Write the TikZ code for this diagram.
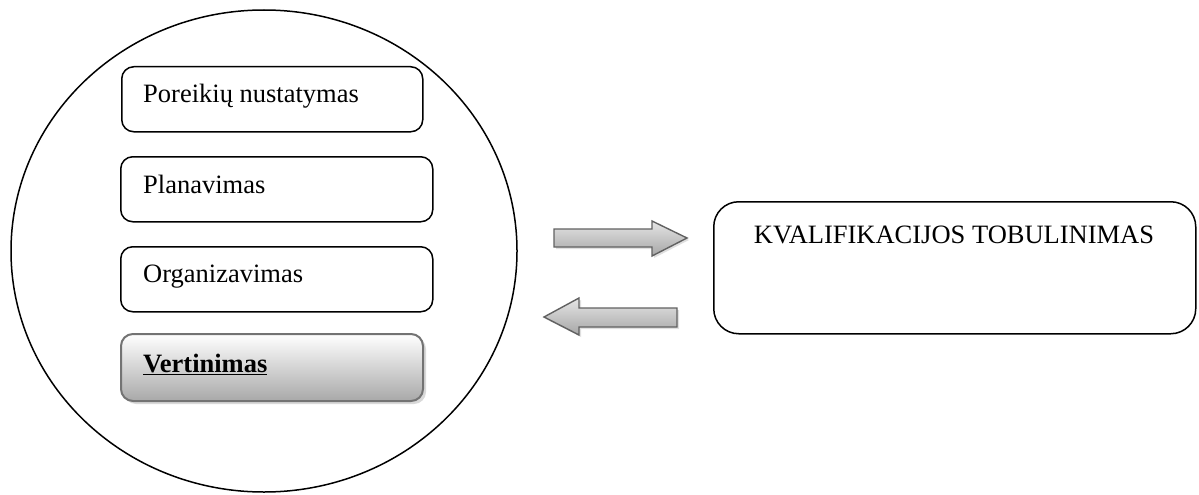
\documentclass[tikz,border=0pt]{standalone}
\usepackage{fontspec}
\setmainfont{Liberation Serif}
\usetikzlibrary{shadows}
\begin{document}
\begin{tikzpicture}[x=1pt,y=-1pt,
  stagebox/.style={draw=black, line width=1.5pt, rounded corners=12pt, fill=white,
    minimum width=#1, minimum height=65pt, anchor=north west, inner sep=0pt},
  label/.style={font=\fontsize{26.5}{30}\selectfont, inner sep=0pt, anchor=base west},
  blockarrow/.style={draw=black!62, line width=1.4pt, top color=gray!20, bottom color=gray!70,
    drop shadow={shadow xshift=2pt, shadow yshift=-2pt, opacity=0.25}}
]
\useasboundingbox (0,0) rectangle (1199,495);

% outer cycle
\draw[line width=1.5pt] (264,251) ellipse [x radius=253, y radius=241];

% stages inside the cycle
\node[stagebox=301pt] (b1) at (121,66) {};
\node[label] (t1) at (143,102) {Poreikių nustatymas};

\node[stagebox=312pt] (b2) at (120,156) {};
\node[label] (t2) at (143,193) {Planavimas};

\node[stagebox=312pt] (b3) at (120,246) {};
\node[label] (t3) at (143,282) {Organizavimas};

\node[draw=black!55, line width=2pt, rounded corners=12pt, top color=white, bottom color=gray!68,
  minimum width=302pt, minimum height=67pt, anchor=north west, inner sep=0pt,
  drop shadow={shadow xshift=3pt, shadow yshift=-3pt, opacity=0.3}] (b4) at (120,333) {};
\node[label] (t4) at (143,372) {\underline{\textbf{Vertinimas}}};

% block arrows between the cycle and the goal
\draw[blockarrow] (554,229) -- (652,229) -- (652,221) -- (687,238) -- (652,256) -- (652,247) -- (554,247) -- cycle;
\draw[blockarrow] (677,308) -- (579,308) -- (579,298) -- (544,317) -- (579,335) -- (579,327) -- (677,327) -- cycle;

% goal box
\node[draw=black, line width=1.5pt, rounded corners=25pt, minimum width=482pt, minimum height=132pt,
  anchor=north west, inner sep=0pt] (goal) at (713,201) {};
\node[font=\fontsize{26.5}{30}\selectfont, inner sep=0pt, anchor=base] (gt) at (954,243) {KVALIFIKACIJOS TOBULINIMAS};
\end{tikzpicture}
\end{document}
